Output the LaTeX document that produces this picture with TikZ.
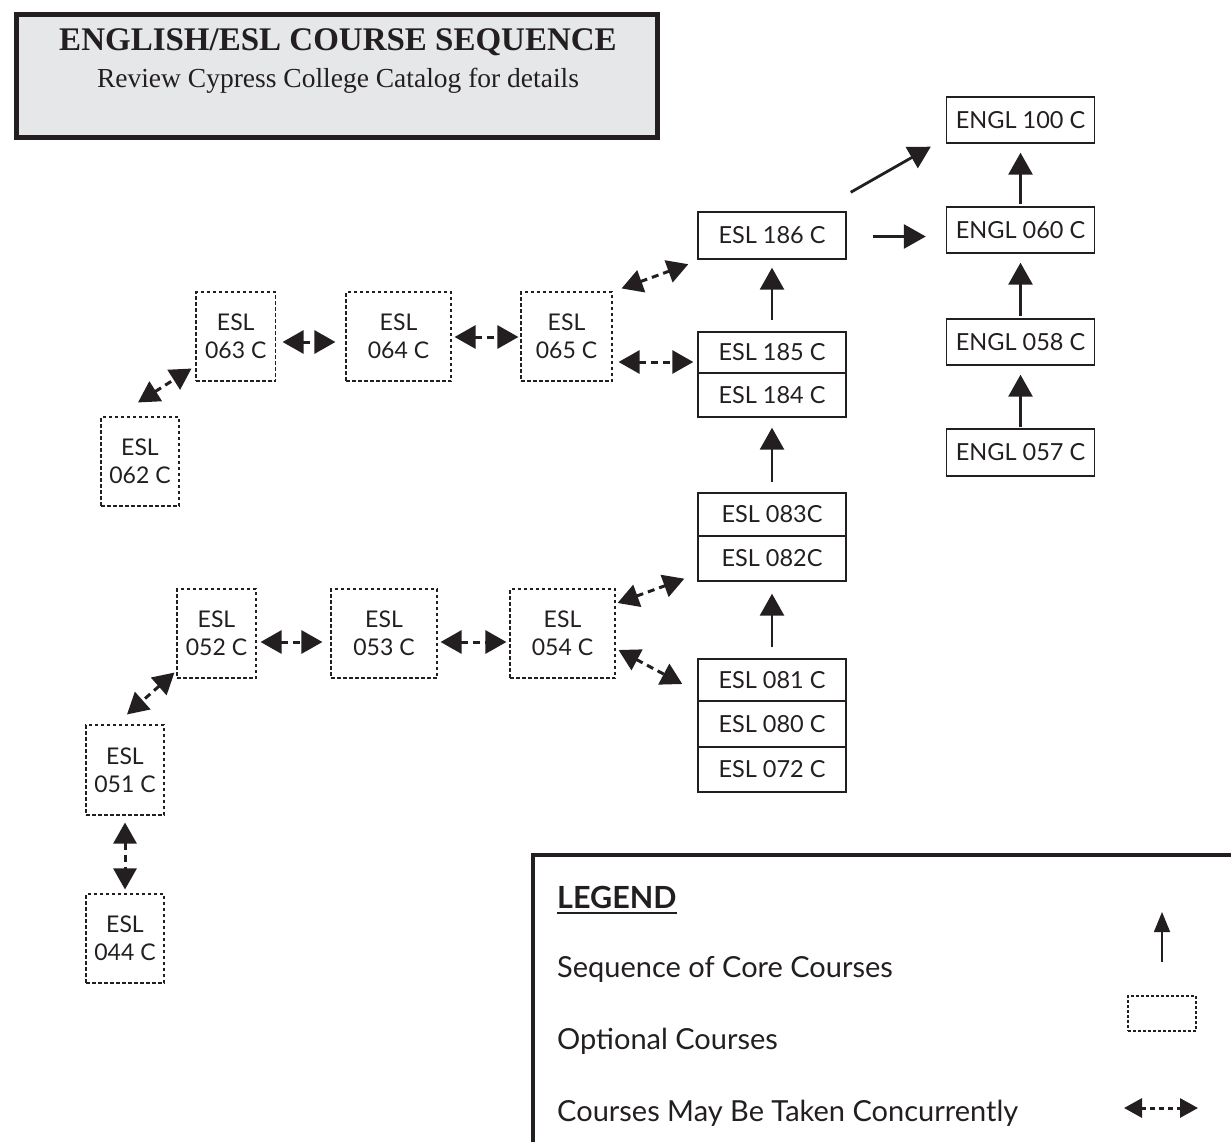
\documentclass[tikz,border=0pt]{standalone}
\usepackage{fontspec}
\setmainfont{Liberation Serif}
\setsansfont{Lato}
\usetikzlibrary{arrows.meta,calc}
\definecolor{ink}{HTML}{231F20}
\definecolor{titlegray}{HTML}{E6E7E8}
\begin{document}
\begin{tikzpicture}[x=1pt,y=-1pt,
  every node/.style={text=ink},
  core/.style={draw=ink, line width=1.4pt, minimum width=148pt, inner sep=0pt, font=\sffamily\fontsize{23.5}{27}\selectfont},
  opt/.style={draw=ink, line width=1.1pt, dash pattern=on 3.5pt off 2.5pt, inner sep=0pt, align=center, font=\sffamily\fontsize{23}{28}\selectfont},
  seq/.style={draw=ink, line width=2.8pt, -{Triangle[length=22pt,width=24pt]}},
  conc/.style={draw=ink, line width=3pt, dash pattern=on 7pt off 5pt, {Triangle[length=21pt,width=23pt]}-{Triangle[length=21pt,width=23pt]}},
  legtext/.style={anchor=base west, inner sep=0pt, font=\sffamily\fontsize{29}{33}\selectfont},
]
\useasboundingbox (0,0) rectangle (1231,1142);

% title
\node[draw=ink, line width=5pt, fill=titlegray, minimum width=641pt, minimum height=123pt, inner sep=0pt] (titlebox) at (337,76) {};
\node[anchor=base, inner sep=0pt, font=\bfseries\fontsize{33}{36}\selectfont] (title) at (338,51) {ENGLISH/ESL COURSE SEQUENCE};
\node[anchor=base, inner sep=0pt, font=\fontsize{27.5}{30}\selectfont] (subtitle) at (338,88) {Review Cypress College Catalog for details};

% core courses
\node[core, minimum height=46pt] (e100) at (1020.5,120) {ENGL 100 C};
\node[core, minimum height=46pt] (e060) at (1020.5,230) {ENGL 060 C};
\node[core, minimum height=46pt] (e058) at (1020.5,342) {ENGL 058 C};
\node[core, minimum height=47pt] (e057) at (1020.5,452.5) {ENGL 057 C};
\node[core, minimum height=47pt] (s186) at (772,235.5) {ESL 186 C};
\node[core, minimum height=41pt] (s185) at (772,352.5) {ESL 185 C};
\node[core, minimum height=44pt] (s184) at (772,395) {ESL 184 C};
\node[core, minimum height=43pt] (s083) at (772,514.5) {ESL 083C};
\node[core, minimum height=45pt] (s082) at (772,558.5) {ESL 082C};
\node[core, minimum height=42pt] (s081) at (772,680) {ESL 081 C};
\node[core, minimum height=46pt] (s080) at (772,724) {ESL 080 C};
\node[core, minimum height=45pt] (s072) at (772,769.5) {ESL 072 C};

% optional courses
\node[opt, minimum width=79.5pt, minimum height=89pt] (o063) at (235.75,336.5) {ESL\\063 C};
\node[opt, minimum width=105pt, minimum height=89pt] (o064) at (398.5,336.5) {ESL\\064 C};
\node[opt, minimum width=91pt, minimum height=89pt] (o065) at (566.5,336.5) {ESL\\065 C};
\node[opt, minimum width=78pt, minimum height=89pt] (o062) at (140,461.5) {ESL\\062 C};
\node[opt, minimum width=79pt, minimum height=89pt] (o052) at (216.5,633.5) {ESL\\052 C};
\node[opt, minimum width=106pt, minimum height=89pt] (o053) at (384,633.5) {ESL\\053 C};
\node[opt, minimum width=105pt, minimum height=89pt] (o054) at (562.5,633.5) {ESL\\054 C};
\node[opt, minimum width=78pt, minimum height=90pt] (o051) at (125,770) {ESL\\051 C};
\node[opt, minimum width=78pt, minimum height=89pt] (o044) at (125,938.5) {ESL\\044 C};

% sequence arrows
\draw[seq, shorten <=11pt, shorten >=12pt] (s081.north) -- (s082.south);
\draw[seq, shorten <=10pt, shorten >=10pt] (s083.north) -- (s184.south);
\draw[seq, shorten <=11pt, shorten >=8pt] (s185.north) -- (s186.south);
\draw[seq, shorten <=1pt, shorten >=9pt] (e057.north) -- (e058.south);
\draw[seq, shorten <=2pt, shorten >=9pt] (e058.north) -- (e060.south);
\draw[seq, shorten <=2pt, shorten >=9pt] (e060.north) -- (e100.south);
\draw[seq] ($(s186.north east)+(4,-19)$) -- ($(e100.south west)+(-15,3)$);
\draw[seq] ($(s186.east)+(26,1)$) -- ($(e060.west)+(-20,6.5)$);

% concurrent arrows
\draw[conc] ($(o063.east)+(6.5,5.5)$) -- ($(o064.west)+(-10,5.5)$);
\draw[conc] ($(o064.east)+(3,0.5)$) -- ($(o065.west)+(-2,0.5)$);
\draw[conc] ($(o065.east)+(6,25.5)$) -- ($(s185.west)+(-4,9.5)$);
\draw[conc] ($(o065.north east)+(9,-3)$) -- ($(s186.south west)+(-9,4.5)$);
\draw[conc] ($(o062.north)+(-2,-14)$) -- ($(o063.south west)+(-4,-13)$);
\draw[conc] ($(o052.east)+(4,8.5)$) -- ($(o053.west)+(-8,8.5)$);
\draw[conc] ($(o053.east)+(3,8.5)$) -- ($(o054.west)+(-3,8.5)$);
\draw[conc] ($(o054.east)+(2,-30.5)$) -- ($(s082.south west)+(-13,-3)$);
\draw[conc] ($(o054.east)+(3,16.5)$) -- ($(s081.west)+(-15,4)$);
\draw[conc] ($(o052.south west)+(-2,-6)$) -- ($(o051.north)+(2,-10)$);
\draw[conc, shorten <=7pt, shorten >=4pt] (o051.south) -- (o044.north);

% legend
\draw[ink, line width=4pt] (1240,855) -- (533,855) -- (533,1150);
\node[legtext, font=\sffamily\bfseries\fontsize{30.5}{33}\selectfont] (legtitle) at (557,908) {LEGEND};
\draw[ink, line width=1.8pt] ($(legtitle.base west)+(0,5)$) -- ($(legtitle.base east)+(0,5)$);
\node[legtext] (legseq) at (557,977) {Sequence of Core Courses};
\node[legtext] (legopt) at (557,1049) {Optional Courses};
\node[legtext] (legconc) at (557,1121) {Courses May Be Taken Concurrently};
\coordinate (lsa) at (1162,962);
\coordinate (lsb) at (1162,912);
\draw[ink, line width=1.5pt, -{Triangle[length=20pt,width=16pt]}] (lsa) -- (lsb);
\node[draw=ink, line width=1.1pt, dash pattern=on 3pt off 2pt, minimum width=68pt, minimum height=35pt, inner sep=0pt] (lrect) at (1162,1013.5) {};
\coordinate (lca) at (1124,1108);
\coordinate (lcb) at (1198,1108);
\draw[ink, line width=3pt, dash pattern=on 5pt off 4pt, {Triangle[length=18pt,width=19pt]}-{Triangle[length=18pt,width=19pt]}] (lca) -- (lcb);
\end{tikzpicture}
\end{document}
